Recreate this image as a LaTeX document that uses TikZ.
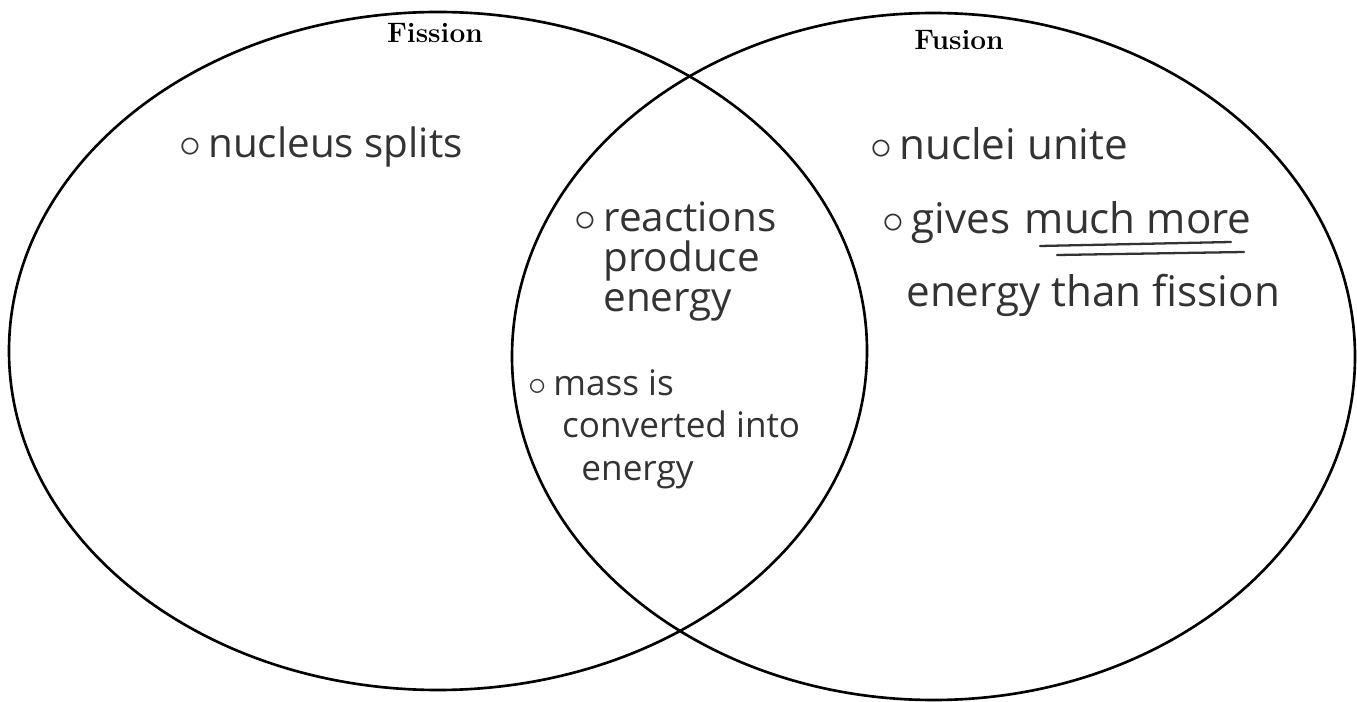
\documentclass[tikz,border=0pt]{standalone}
\usepackage{fontspec}
\newfontfamily\handfont{Open Sans}
\usetikzlibrary{shapes.geometric}
\newcommand{\bul}{\llap{$\circ$\hspace{4pt}}}

\begin{document}
\begin{tikzpicture}[
    setcircle/.style={
        ellipse,
        draw=black,
        line width=1.5pt,
        inner sep=0pt
    },
    settitle/.style={
        font=\fontsize{16}{18}\selectfont\bfseries,
        anchor=base
    },
    handnote/.style={
        text=black!80,
        align=left,
        anchor=base west,
        inner sep=0pt
    },
    underline/.style={
        draw=black!80,
        line width=1.3pt,
        line cap=round
    }
]
\useasboundingbox (0,0) rectangle (27.14,-14.04);

% ============================================
% The two sets
% ============================================
\node[setcircle, minimum width=17.16cm, minimum height=13.56cm] (fission) at (8.76,-7.02) {};
\node[setcircle, minimum width=16.86cm, minimum height=13.74cm] (fusion) at (18.67,-7.13) {};

\node[settitle] (fissiontitle) at (8.70,-0.86) {Fission};
\node[settitle] (fusiontitle) at (19.18,-1.00) {Fusion};

% Fission only
\node[handnote, font=\handfont\fontsize{23}{28}\selectfont] (splits) at (4.16,-3.16) {\bul nucleus splits};

% Both (base = last line)
\node[handnote, font=\handfont\fontsize{23}{23}\selectfont] (produce) at (12.06,-6.24) {\bul reactions\\produce\\energy};
\node[handnote, font=\handfont\fontsize{20}{24}\selectfont] (mass) at (11.06,-9.60) {\bul mass is\\\hspace*{5pt}converted into\\\hspace*{16pt}energy};

% Fusion only
\node[handnote, font=\handfont\fontsize{24}{42}\selectfont] (unite) at (18.12,-6.14) {\hspace*{-4pt}\bul nuclei unite\\\hspace*{3pt}\bul gives\hspace{2pt} much more\\energy than fission};

\draw[underline] (20.80,-4.92) -- (24.62,-4.84);
\draw[underline] (21.14,-5.10) -- (24.88,-5.04);

\end{tikzpicture}
\end{document}
